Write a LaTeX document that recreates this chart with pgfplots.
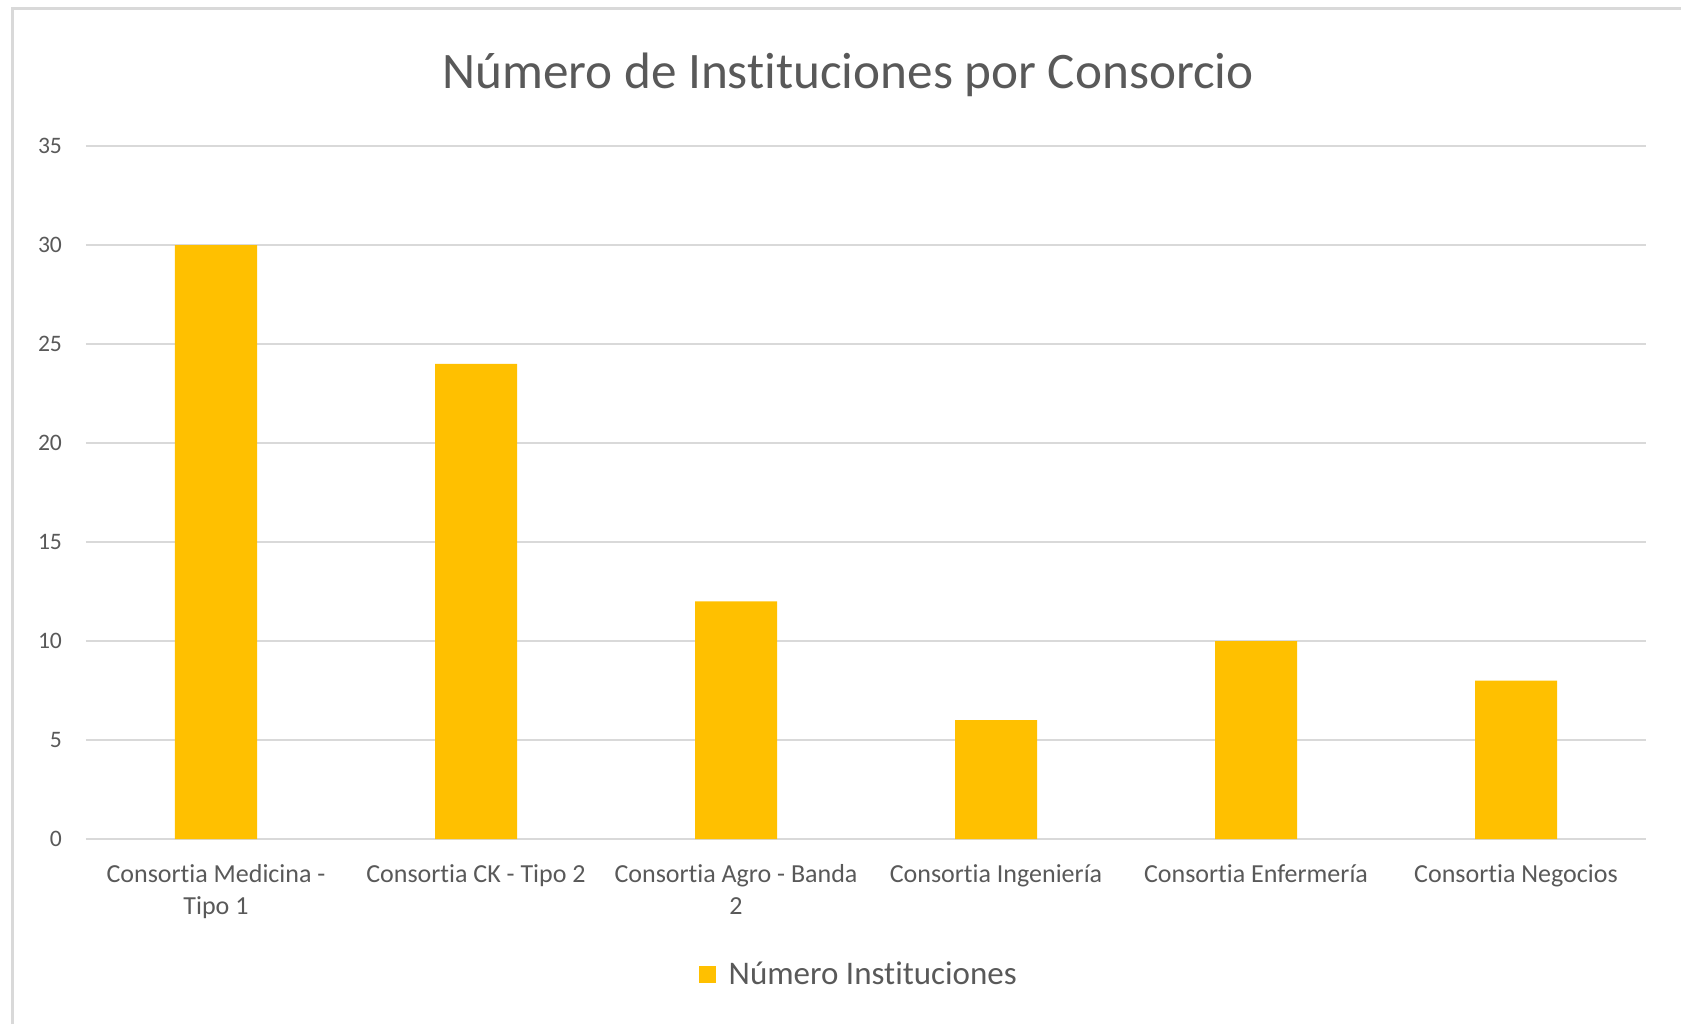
\documentclass[border=0pt]{standalone}
\usepackage{pgfplots}
\pgfplotsset{compat=1.18}
\usepackage{fontspec}
\setmainfont{Carlito}[Ligatures=NoCommon]
\definecolor{barc}{HTML}{FFC000}
\definecolor{gridc}{HTML}{D9D9D9}
\definecolor{txt}{HTML}{595959}
\begin{document}
\begin{tikzpicture}
% 1 px of the reference = 0.5pt
\path[use as bounding box] (0,0) rectangle (840.5pt,512pt);
\draw[gridc,line width=1.5pt] (6pt,0) -- (6pt,507.5pt) -- (842pt,507.5pt);
\node[anchor=base,font=\fontsize{25.6}{30}\selectfont,text=txt] at (424pt,467.5pt)
  {Número de Instituciones por Consorcio};
\begin{axis}[
    at={(43pt,92.5pt)},anchor=south west,
    scale only axis,
    width=780pt,height=346.5pt,
    ybar,bar width=41pt,
    xmin=-0.5,xmax=5.5,ymin=0,ymax=35,
    enlargelimits=false,
    xtick={0,...,5},
    xticklabels={{Consortia Medicina -\\Tipo 1},{Consortia CK - Tipo 2},{Consortia Agro - Banda\\2},{Consortia Ingeniería},{Consortia Enfermería},{Consortia Negocios}},
    ytick={0,5,...,35},
    ymajorgrids,
    grid style={gridc,line width=1.2pt},
    axis line style={draw=none},
    major tick length=0pt,
    xticklabel style={font=\fontsize{13}{16}\selectfont,text=txt,align=center,yshift=-9.3pt},
    yticklabel style={font=\fontsize{11.8}{14}\selectfont,text=txt,xshift=-8.5pt},
    /pgf/number format/assume math mode=true,
    legend style={at={(0.496,-0.196)},anchor=center,draw=none,fill=none,
        font=\fontsize{16.5}{19}\selectfont,text=txt,inner sep=0pt},
    legend image code/.code={\fill[barc] (0pt,-4.3pt) rectangle (8.5pt,4.2pt);},
]
\addplot[fill=barc,draw=none] coordinates {(0,30) (1,24) (2,12) (3,6) (4,10) (5,8)};
\addlegendentry{\hspace{4.5pt}Número Instituciones}
\end{axis}
\end{tikzpicture}
\end{document}
